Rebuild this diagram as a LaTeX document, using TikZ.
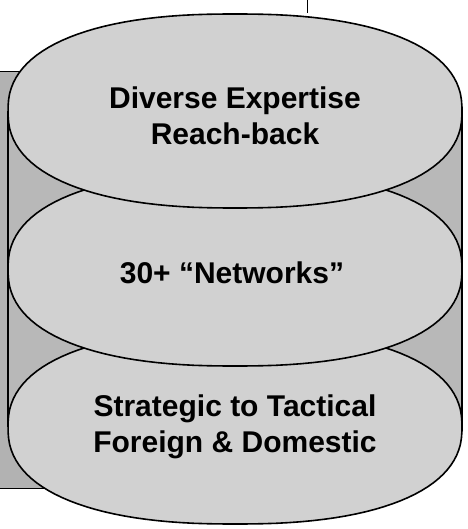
\documentclass[tikz,border=0pt]{standalone}
\usepackage{fontspec}
\usepackage{tikz}
\usetikzlibrary{positioning}
\newfontfamily\labelfont{Liberation Sans}

\begin{document}
\begin{tikzpicture}[
    x=1pt, y=-1pt,
    every node/.style={align=center},
    disc/.style={
        draw,
        line width=1.6pt,
        fill=black!18
    },
    body/.style={
        fill=black!28
    },
    backbox/.style={
        fill=black!30,
        line width=1pt
    },
    label_text/.style={
        font=\labelfont\bfseries\fontsize{30}{36}\selectfont,
        text=black,
        inner sep=0pt
    }
]
    \useasboundingbox (0,0) rectangle (467,529);
    % box behind the stack
    \fill [backbox] (-5,72) rectangle (60,488);
    \draw [line width=1pt] (0,72) -- (60,72);
    \draw [line width=1pt] (0,488) -- (60,488);
    \draw [line width=0.6pt] (307,0) -- (307,13);
    % cylinder body
    \fill [body] (8,111) rectangle (462,427);
    \draw [line width=1.4pt] (8,111) -- (8,427);
    \draw [line width=1.4pt] (462,111) -- (462,427);
    % discs, bottom first
    \foreach \cy in {427,269,111} {
        \draw [disc] plot [domain=1.5:361.5, samples=121]
            ({235+227*sign(cos(\x))*pow(abs(cos(\x)),0.85)},
             {\cy+97*sign(sin(\x))*pow(abs(sin(\x)),0.85)}) -- cycle;
    }
    % labels
    \node [label_text] (expertise) at (235,116) {Diverse Expertise\\Reach-back};
    \node [label_text] (networks) at (232,273) {30+ \char"201C Networks\char"201D};
    \node [label_text] (scope) at (235,427) {Strategic to Tactical\\Foreign \& Domestic};
\end{tikzpicture}
\end{document}
